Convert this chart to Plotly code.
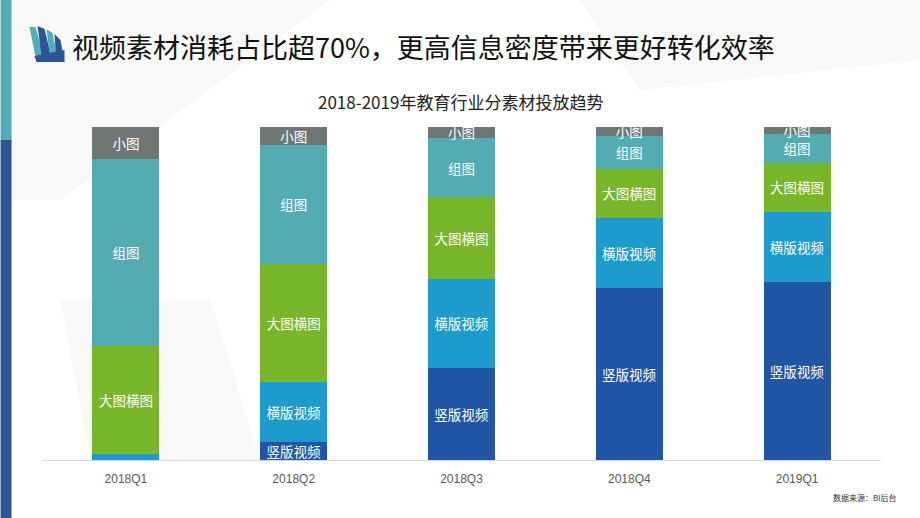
import plotly.graph_objects as go

categories = ["2018Q1", "2018Q2", "2018Q3", "2018Q4", "2019Q1"]
series_names = ["竖版视频", "横版视频", "大图横图", "组图", "小图"]
v_vertical = [0.0, 5.5, 27.7, 51.8, 53.6]
v_horizontal = [1.7, 18.0, 26.6, 20.9, 20.9]
v_bigimage = [32.6, 35.3, 24.6, 14.7, 14.7]
v_group = [56.2, 35.9, 17.8, 10.0, 8.8]
v_small = [9.5, 5.3, 3.3, 2.6, 2.0]
series_values = [v_vertical, v_horizontal, v_bigimage, v_group, v_small]
colors = ["#2056a5", "#1d9bcd", "#78b62a", "#53abb3", "#6f7774"]

W, H = 920, 518
L, R, T, B = 41.5, 38.5, 127, 58
PW, PH = W - L - R, H - T - B


def px(x):
    return (x - L) / PW


def py(y):
    return (H - B - y) / PH


fig = go.Figure()
for name, vals, col in zip(series_names, series_values, colors):
    fig.add_trace(go.Bar(
        x=categories, y=vals, name=name,
        marker=dict(color=col, line=dict(width=0)),
        text=[name if v > 1.8 else "" for v in vals],
        textposition="inside", insidetextanchor="middle",
        textangle=0, constraintext="none",
        textfont=dict(color="white", size=13.5, family="Noto Sans CJK SC"),
        hoverinfo="skip",
    ))

shapes = []
# faint background shapes
bg = "#f8f8f8"
for pts in [
    [(12, 0), (330, 0), (60, 200), (12, 200)],
    [(580, 0), (920, 0), (920, 60), (640, 90)],
    [(60, 300), (210, 300), (260, 460), (90, 460)],
]:
    d = "M " + " L ".join(f"{px(a)},{py(b)}" for a, b in pts) + " Z"
    shapes.append(dict(type="path", path=d, xref="paper", yref="paper",
                       fillcolor=bg, line=dict(width=0), layer="below"))

# left stripe
shapes.append(dict(type="rect", xref="paper", yref="paper", x0=px(0), x1=px(11),
                   y0=py(0), y1=py(140), fillcolor="#52acb5", line=dict(width=0)))
shapes.append(dict(type="rect", xref="paper", yref="paper", x0=px(0), x1=px(11),
                   y0=py(140), y1=py(518), fillcolor="#2d5593", line=dict(width=0)))

# logo blades
blades = [
    ([(29, 27), (35, 27), (45, 62), (36, 62)], "#4fb0b8"),
    ([(37, 26), (44, 29), (52, 62), (42, 62)], "#2d5593"),
    ([(46, 29), (52, 33), (58, 62), (50, 62)], "#4fb0b8"),
    ([(54, 34), (60, 40), (64, 62), (56, 62)], "#2d5593"),
    ([(34, 56), (64, 50), (64, 62), (36, 62)], "#2d5593"),
]
for pts, col in blades:
    d = "M " + " L ".join(f"{px(a)},{py(b)}" for a, b in pts) + " Z"
    shapes.append(dict(type="path", path=d, xref="paper", yref="paper",
                       fillcolor=col, line=dict(width=0)))

annotations = [
    dict(text="视频素材消耗占比超70%，更高信息密度带来更好转化效率",
         x=px(70), y=py(46), xref="paper", yref="paper", xanchor="left", yanchor="middle",
         showarrow=False, font=dict(size=27, color="#111111", family="Noto Sans CJK SC")),
    dict(text="2018-2019年教育行业分素材投放趋势",
         x=px(460), y=py(101), xref="paper", yref="paper", xanchor="center", yanchor="middle",
         showarrow=False, font=dict(size=17, color="#222222", family="Noto Sans CJK SC")),
    dict(text="数据来源：BI后台",
         x=px(900), y=py(497), xref="paper", yref="paper", xanchor="right", yanchor="middle",
         showarrow=False, font=dict(size=8, color="#333333", family="Noto Sans CJK SC")),
]

fig.update_layout(
    width=W, height=H,
    margin=dict(l=L, r=R, t=T, b=B, pad=0),
    barmode="stack", bargap=0.6,
    showlegend=False,
    paper_bgcolor="white", plot_bgcolor="rgba(0,0,0,0)",
    shapes=shapes, annotations=annotations,
    xaxis=dict(showline=True, linecolor="#d9d9d9", linewidth=1, ticks="",
               ticklabelstandoff=8,
               tickfont=dict(size=12, color="#595959", family="Liberation Sans"),
               showgrid=False, zeroline=False),
    yaxis=dict(range=[0, 100], visible=False, showgrid=False),
)

fig.write_html("out.html", config={"displayModeBar": False},
               post_script="document.body.style.margin='0';")
